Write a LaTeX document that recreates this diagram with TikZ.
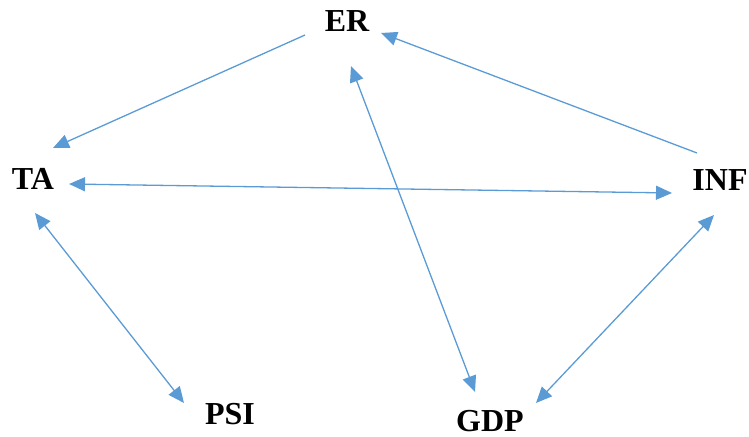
\documentclass[tikz,border=0pt]{standalone}
\usepackage{fontspec}
\setmainfont{Liberation Serif}
\usetikzlibrary{arrows.meta}

\definecolor{linkblue}{HTML}{5B9BD5}

\tikzset{
    var/.style={font=\fontsize{16}{18}\selectfont\bfseries, inner sep=0pt},
    link/.style={draw=linkblue, line width=0.65pt, -{Triangle[length=8pt,width=7pt]}},
    both/.style={link, {Triangle[length=8pt,width=7pt]}-{Triangle[length=8pt,width=7pt]}}
}

\begin{document}
\begin{tikzpicture}[x=0.5pt, y=-0.5pt]
    \useasboundingbox (0,0) rectangle (749,437);
    \node[var](er) at (347,21) {ER};
    \node[var](ta) at (33,179) {TA};
    \node[var](inf) at (720,180) {INF};
    \node[var](psi) at (230,414) {PSI};
    \node[var](gdp) at (490,421) {GDP};
    \draw[link] ([shift={(-42,14)}]er.center) -- ([shift={(20,-31)}]ta.center);
    \draw[link] ([shift={(-23,-27)}]inf.center) -- ([shift={(34,12)}]er.center);
    \draw[both] ([shift={(36,5)}]ta.center) -- ([shift={(-48,13)}]inf.center);
    \draw[both] ([shift={(4,45)}]er.center) -- ([shift={(-15,-29)}]gdp.center);
    \draw[both] ([shift={(2,34)}]ta.center) -- ([shift={(-46,-11)}]psi.center);
    \draw[both] ([shift={(-6,35)}]inf.center) -- ([shift={(46,-18)}]gdp.center);
\end{tikzpicture}
\end{document}
